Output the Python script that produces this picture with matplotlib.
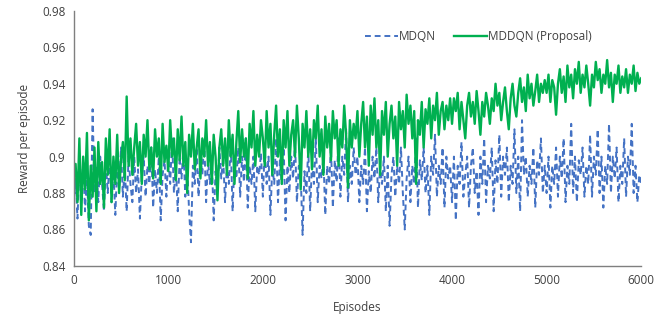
import matplotlib
matplotlib.use("Agg")
import matplotlib.pyplot as plt
from matplotlib.ticker import FuncFormatter

episodes = list(range(0, 6001, 20))

mddqn = [
    0.888, 0.896, 0.875, 0.91, 0.868, 0.9, 0.882, 0.913, 0.865, 0.895,
    0.878, 0.905, 0.87, 0.908, 0.885, 0.897, 0.872, 0.91, 0.89, 0.915,
    0.875, 0.9, 0.885, 0.912, 0.88, 0.898, 0.908, 0.887, 0.933, 0.895,
    0.91, 0.89, 0.905, 0.918, 0.895, 0.908, 0.885, 0.912, 0.9, 0.92,
    0.893, 0.905, 0.888, 0.915, 0.9, 0.91, 0.885, 0.918, 0.897, 0.906,
    0.892, 0.92, 0.9, 0.91, 0.887, 0.915, 0.898, 0.922, 0.895, 0.908,
    0.88, 0.912, 0.9, 0.918, 0.893, 0.905, 0.915, 0.888, 0.91, 0.9,
    0.92, 0.895, 0.908, 0.885, 0.912, 0.9, 0.876, 0.905, 0.915, 0.895,
    0.91, 0.89, 0.92, 0.9, 0.912, 0.885, 0.908, 0.925, 0.897, 0.915,
    0.9, 0.91, 0.888, 0.918, 0.905, 0.925, 0.895, 0.912, 0.9, 0.92,
    0.91, 0.895, 0.925, 0.905, 0.918, 0.89, 0.912, 0.928, 0.9, 0.915,
    0.885, 0.92, 0.905, 0.925, 0.895, 0.912, 0.92, 0.9, 0.928, 0.91,
    0.882, 0.918, 0.905, 0.925, 0.9, 0.915, 0.893, 0.92, 0.91, 0.928,
    0.9, 0.915, 0.89, 0.922, 0.905, 0.918, 0.898, 0.925, 0.91, 0.92,
    0.895, 0.915, 0.905, 0.928, 0.912, 0.883, 0.92, 0.905, 0.918, 0.91,
    0.925, 0.9, 0.918, 0.93, 0.905, 0.922, 0.895, 0.928, 0.912, 0.932,
    0.905, 0.92, 0.89, 0.925, 0.912, 0.93, 0.9, 0.918, 0.928, 0.91,
    0.922, 0.895, 0.93, 0.915, 0.925, 0.905, 0.934, 0.918, 0.928, 0.91,
    0.925, 0.885, 0.92, 0.912, 0.93, 0.905, 0.926, 0.918, 0.932, 0.91,
    0.928, 0.92, 0.935, 0.912, 0.925, 0.93, 0.915, 0.928, 0.92, 0.932,
    0.918, 0.932, 0.925, 0.935, 0.915, 0.93, 0.92, 0.91, 0.928, 0.935,
    0.922, 0.93, 0.918, 0.936, 0.925, 0.912, 0.93, 0.922, 0.935, 0.928,
    0.918, 0.932, 0.925, 0.94, 0.928, 0.935, 0.92, 0.93, 0.938, 0.925,
    0.915, 0.932, 0.94, 0.928, 0.922, 0.935, 0.943, 0.93, 0.938, 0.925,
    0.945, 0.932, 0.94, 0.928, 0.936, 0.945, 0.93, 0.94, 0.935, 0.942,
    0.935, 0.945, 0.93, 0.942, 0.938, 0.923, 0.94, 0.948, 0.935, 0.944,
    0.93, 0.95, 0.938, 0.945, 0.932, 0.948, 0.94, 0.952, 0.935, 0.945,
    0.938, 0.95, 0.94, 0.928, 0.945, 0.938, 0.952, 0.942, 0.948, 0.935,
    0.945, 0.94, 0.953, 0.938, 0.946, 0.93, 0.945, 0.94, 0.95, 0.935,
    0.944, 0.938, 0.948, 0.935, 0.945, 0.94, 0.95, 0.936, 0.946, 0.94, 0.943,
]

mdqn = [
    0.872, 0.888, 0.866, 0.895, 0.878, 0.897, 0.87, 0.89, 0.862, 0.857,
    0.926, 0.88, 0.895, 0.875, 0.9, 0.885, 0.87, 0.897, 0.88, 0.9,
    0.875, 0.892, 0.868, 0.895, 0.882, 0.905, 0.878, 0.895, 0.87, 0.9,
    0.885, 0.875, 0.9, 0.88, 0.893, 0.866, 0.89, 0.9, 0.878, 0.895,
    0.885, 0.905, 0.872, 0.893, 0.88, 0.9, 0.865, 0.89, 0.898, 0.878,
    0.9, 0.885, 0.91, 0.88, 0.895, 0.87, 0.9, 0.888, 0.905, 0.878,
    0.895, 0.87, 0.853, 0.895, 0.885, 0.905, 0.878, 0.9, 0.89, 0.91,
    0.875, 0.898, 0.885, 0.9, 0.865, 0.892, 0.88, 0.905, 0.888, 0.9,
    0.875, 0.895, 0.885, 0.908, 0.87, 0.898, 0.888, 0.905, 0.878, 0.9,
    0.886, 0.91, 0.872, 0.895, 0.885, 0.9, 0.87, 0.895, 0.89, 0.902,
    0.878, 0.905, 0.885, 0.9, 0.868, 0.895, 0.885, 0.91, 0.875, 0.898,
    0.885, 0.905, 0.865, 0.895, 0.88, 0.9, 0.888, 0.908, 0.875, 0.895,
    0.89, 0.857, 0.892, 0.88, 0.905, 0.87, 0.898, 0.885, 0.91, 0.875,
    0.895, 0.888, 0.9, 0.868, 0.895, 0.885, 0.905, 0.872, 0.898, 0.886,
    0.91, 0.878, 0.9, 0.89, 0.915, 0.875, 0.895, 0.885, 0.905, 0.89,
    0.9, 0.875, 0.895, 0.885, 0.905, 0.87, 0.892, 0.88, 0.9, 0.888,
    0.905, 0.875, 0.895, 0.885, 0.9, 0.87, 0.895, 0.862, 0.89, 0.9,
    0.878, 0.895, 0.885, 0.905, 0.88, 0.86, 0.888, 0.9, 0.875, 0.895,
    0.885, 0.91, 0.872, 0.898, 0.887, 0.905, 0.88, 0.895, 0.868, 0.9,
    0.89, 0.912, 0.878, 0.895, 0.885, 0.905, 0.872, 0.9, 0.888, 0.895,
    0.875, 0.9, 0.865, 0.895, 0.885, 0.908, 0.878, 0.89, 0.9, 0.872,
    0.895, 0.905, 0.88, 0.892, 0.868, 0.9, 0.885, 0.91, 0.875, 0.895,
    0.888, 0.905, 0.87, 0.898, 0.885, 0.912, 0.878, 0.9, 0.89, 0.905,
    0.875, 0.895, 0.885, 0.915, 0.88, 0.9, 0.87, 0.92, 0.89, 0.9,
    0.878, 0.895, 0.885, 0.905, 0.872, 0.898, 0.89, 0.91, 0.88, 0.895,
    0.88, 0.9, 0.872, 0.895, 0.885, 0.905, 0.878, 0.9, 0.888, 0.91,
    0.875, 0.895, 0.885, 0.918, 0.88, 0.9, 0.875, 0.898, 0.89, 0.905,
    0.878, 0.895, 0.885, 0.912, 0.878, 0.9, 0.89, 0.915, 0.88, 0.9,
    0.872, 0.895, 0.885, 0.918, 0.88, 0.9, 0.888, 0.905, 0.875, 0.895,
    0.885, 0.91, 0.878, 0.9, 0.89, 0.918, 0.88, 0.895, 0.875, 0.89, 0.885,
]

x_ticks = [0, 1000, 2000, 3000, 4000, 5000, 6000]
y_ticks = [0.84, 0.86, 0.88, 0.90, 0.92, 0.94, 0.96, 0.98]

plt.rcParams['font.family'] = ['Open Sans', 'DejaVu Sans']

fig = plt.figure(figsize=(6.7, 3.2), dpi=100)
ax = fig.add_axes([0.110, 0.169, 0.847, 0.797])

ax.plot(episodes, mdqn, color='#4472C4', lw=1.4, linestyle=(0, (3, 2)), label='MDQN')
ax.plot(episodes, mddqn, color='#00B050', lw=1.7, label='MDDQN (Proposal)')

ax.set_xlim(0, 6000)
ax.set_ylim(0.84, 0.98)
ax.set_xticks(x_ticks)
ax.set_yticks(y_ticks)
ax.yaxis.set_major_formatter(FuncFormatter(lambda v, p: f"{v:g}"))
ax.tick_params(axis='both', length=0, labelsize=8.5, colors='#404040', pad=6)

for s in ['top', 'right']:
    ax.spines[s].set_visible(False)
for s in ['left', 'bottom']:
    ax.spines[s].set_color('#7f7f7f')
    ax.spines[s].set_linewidth(1.0)

ax.set_xlabel('Episodes', fontsize=8.5, color='#404040', labelpad=10)
ax.set_ylabel('Reward per episode', fontsize=8.5, color='#404040', labelpad=8)

leg = ax.legend(loc='center', bbox_to_anchor=(0.713, 0.90), ncol=2, frameon=False,
                fontsize=8.5, handlelength=2.8, columnspacing=1.5, handletextpad=0.1)
for t in leg.get_texts():
    t.set_color('#404040')

fig.savefig('out.png', dpi=100)
